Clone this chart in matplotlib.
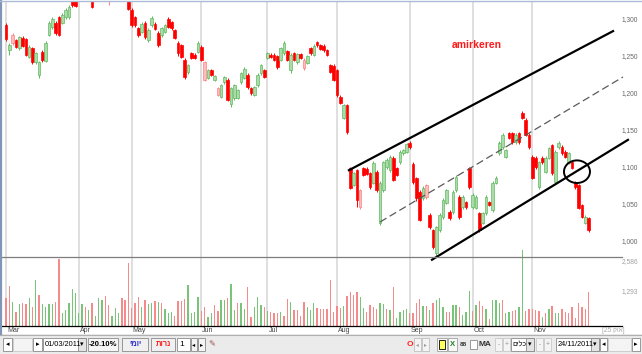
import numpy as np
import matplotlib
matplotlib.use('Agg')
import matplotlib.pyplot as plt
from matplotlib.patches import Rectangle, Ellipse
from matplotlib.lines import Line2D
from matplotlib.transforms import blended_transform_factory as blend

plt.rcParams['font.family'] = ['Liberation Sans', 'DejaVu Sans']

#####################################################
# data (daily candles, Mar 1 - Nov 24 2011)
#####################################################
opens = [1293, 1259, 1280, 1273, 1262, 1276, 1274, 1250, 1262, 1243, 1226, 1257, 1245, 1280, 1290, 1296, 1304, 1296, 1304, 1304, 1330, 1332,
         1330, 1341, 1350, 1340, 1332, 1328, 1337, 1346, 1355, 1335, 1330, 1341, 1352, 1345, 1337, 1331,
         1314, 1304, 1289, 1284, 1296, 1273, 1293, 1295, 1282, 1280, 1284, 1301, 1297, 1286, 1269, 1266, 1246, 1230, 1255, 1253, 1257,
         1264, 1243, 1222, 1232, 1219, 1208, 1196, 1216, 1219, 1186, 1195, 1195, 1216, 1222, 1226, 1208, 1199, 1212, 1228, 1232,
         1249, 1253, 1253, 1251, 1246, 1255, 1258, 1232, 1255, 1243, 1254, 1246, 1242, 1262, 1253, 1270, 1266, 1265, 1259, 1239, 1238,
         1232, 1196, 1168, 1185, 1100, 1077, 1097, 1070, 1100, 1099, 1093, 1080, 1095, 1026, 1070, 1101, 1097, 1114, 1100, 1108, 1120, 1122, 1134, 1105, 1086, 1068,
         1060, 1077, 1037, 1016, 985, 1016, 1034, 1053, 1041, 1041, 1070, 1061, 1047, 1054, 1100,
         1047, 1046, 1039, 1026, 1039, 1054, 1043, 1080, 1120, 1128, 1115, 1147, 1147, 1135, 1147, 1174, 1165, 1145,
         1115, 1114, 1074, 1114, 1095, 1114, 1131, 1081, 1128, 1128, 1122, 1107, 1108, 1081, 1077, 1050, 1026, 1032]
highs = [1296, 1269, 1283, 1275, 1279, 1278, 1276, 1266, 1264, 1257, 1245, 1259, 1271, 1298, 1304, 1298, 1306, 1309, 1316, 1320, 1333, 1336,
         1345, 1353, 1352, 1342, 1334, 1340, 1350, 1358, 1357, 1337, 1344, 1354, 1355, 1347, 1339, 1333,
         1316, 1306, 1291, 1297, 1298, 1289, 1305, 1297, 1285, 1291, 1295, 1304, 1299, 1288, 1272, 1268, 1248, 1241, 1257, 1255, 1271,
         1266, 1245, 1234, 1234, 1226, 1210, 1214, 1225, 1221, 1210, 1214, 1207, 1230, 1236, 1228, 1210, 1211, 1228, 1241, 1234,
         1257, 1255, 1255, 1253, 1264, 1271, 1260, 1255, 1257, 1256, 1256, 1248, 1253, 1264, 1267, 1272, 1268, 1267, 1261, 1241, 1240,
         1234, 1198, 1187, 1187, 1102, 1095, 1099, 1072, 1102, 1101, 1095, 1109, 1097, 1082, 1110, 1113, 1117, 1116, 1102, 1124, 1126, 1134, 1137, 1108, 1088, 1070,
         1075, 1079, 1039, 1018, 1022, 1039, 1059, 1072, 1043, 1070, 1090, 1063, 1063, 1056, 1102,
         1066, 1063, 1041, 1041, 1063, 1056, 1082, 1089, 1136, 1147, 1126, 1149, 1149, 1147, 1149, 1177, 1167, 1147,
         1117, 1116, 1110, 1116, 1116, 1129, 1133, 1124, 1136, 1131, 1124, 1122, 1110, 1083, 1079, 1052, 1036, 1034]
lows = [1272, 1253, 1266, 1262, 1260, 1263, 1251, 1248, 1241, 1241, 1222, 1243, 1243, 1278, 1288, 1280, 1278, 1294, 1302, 1302, 1318, 1317,
        1328, 1338, 1337, 1327, 1316, 1326, 1335, 1344, 1342, 1320, 1328, 1339, 1341, 1333, 1327, 1313,
        1291, 1290, 1277, 1282, 1275, 1270, 1291, 1286, 1263, 1277, 1282, 1289, 1287, 1274, 1252, 1248, 1220, 1227, 1247, 1247, 1255,
        1244, 1217, 1220, 1224, 1217, 1197, 1194, 1214, 1190, 1182, 1192, 1193, 1214, 1220, 1207, 1199, 1197, 1210, 1226, 1221,
        1247, 1248, 1244, 1234, 1244, 1253, 1244, 1229, 1244, 1241, 1247, 1233, 1240, 1253, 1251, 1264, 1259, 1257, 1251, 1228, 1217,
        1196, 1186, 1166, 1146, 1071, 1075, 1047, 1045, 1089, 1090, 1072, 1078, 1068, 1023, 1068, 1099, 1095, 1082, 1089, 1106, 1118, 1120, 1126, 1079, 1056, 1028,
        1057, 1058, 1018, 990, 981, 1014, 1031, 1051, 1030, 1038, 1068, 1031, 1045, 1045, 1072,
        1045, 1044, 1013, 1024, 1037, 1048, 1041, 1078, 1118, 1126, 1113, 1139, 1133, 1133, 1133, 1166, 1143, 1126,
        1085, 1099, 1072, 1106, 1093, 1112, 1091, 1079, 1126, 1118, 1113, 1105, 1098, 1072, 1044, 1032, 1024, 1014]
closes = [1274, 1266, 1269, 1264, 1277, 1265, 1253, 1264, 1243, 1255, 1243, 1246, 1269, 1296, 1301, 1282, 1280, 1307, 1314, 1318, 1320, 1319,
          1342, 1350, 1340, 1330, 1318, 1338, 1348, 1355, 1345, 1328, 1342, 1352, 1344, 1336, 1330, 1315,
          1293, 1293, 1280, 1295, 1277, 1287, 1303, 1288, 1266, 1289, 1293, 1291, 1289, 1276, 1255, 1250, 1223, 1239, 1249, 1249, 1269,
          1246, 1219, 1232, 1226, 1224, 1199, 1212, 1223, 1192, 1208, 1212, 1205, 1228, 1234, 1209, 1201, 1209, 1226, 1239, 1223,
          1255, 1250, 1246, 1236, 1262, 1269, 1246, 1253, 1246, 1254, 1249, 1235, 1251, 1255, 1265, 1266, 1261, 1259, 1253, 1230, 1219,
          1199, 1188, 1185, 1149, 1073, 1093, 1057, 1047, 1091, 1092, 1074, 1107, 1070, 1080, 1108, 1111, 1115, 1084, 1091, 1122, 1124, 1132, 1128, 1081, 1060, 1030,
          1073, 1061, 1020, 993, 1020, 1037, 1057, 1070, 1032, 1068, 1088, 1034, 1061, 1047, 1074,
          1064, 1061, 1016, 1039, 1061, 1050, 1080, 1087, 1134, 1145, 1124, 1141, 1135, 1145, 1135, 1168, 1145, 1128,
          1087, 1101, 1108, 1108, 1114, 1127, 1093, 1122, 1134, 1120, 1115, 1120, 1100, 1074, 1046, 1034, 1034, 1016]
# hollow (pink) red candles
pink_idx = [2, 31, 60, 64, 90, 107, 127]

volumes = [1064, 1520, 912, 532, 836, 874, 836, 1064, 722, 1748, 1178, 836, 722, 836, 836, 912, 2546, 494, 608, 874,
           1406, 1254, 494, 836, 722, 608, 874, 380, 1064, 988, 1140, 798, 380, 684, 494, 1064, 988, 2394, 684, 874,
           1102, 722, 988, 836, 874, 950, 912, 874, 646, 494, 532, 380, 950, 950, 1026, 1558, 494, 532, 1102, 570,
           722, 342, 494, 798, 570, 988, 988, 1064, 1596, 608, 874, 874, 646, 1482, 342, 722, 1102, 798, 722, 570,
           532, 494, 494, 532, 380, 1026, 912, 608, 608, 380, 912, 722, 608, 874, 684, 646, 646, 646, 1748, 532,
           760, 684, 760, 1140, 1292, 1178, 1292, 1102, 684, 532, 798, 722, 646, 874, 836, 646, 608, 1482, 304, 532,
           608, 646, 494, 494, 874, 1026, 760, 760, 608, 874, 988, 1064, 722, 532, 532, 798, 798, 722, 418, 532,
           1330, 570, 798, 950, 760, 646, 266, 988, 988, 874, 988, 494, 532, 570, 608, 722, 2888, 570, 646, 646,
           608, 570, 342, 494, 646, 760, 494, 494, 646, 532, 494, 722, 304, 874, 722, 646, 1292]
vol_colors = ("ppgpgppgpg" "pggggppggg" "ggggpgpggg" "ppgggppppp" "pgpggpgpgg" "gppppggggp"
              "pggppggpgg" "pggppgggpg" "pppgppgppp" "pgggpppppp" "ppgppppggp" "pppggpgpgg"
              "ggppppgpgp" "gggppggpgg" "gpgppgpggg" "pggppggppp" "ppgpgpggpp" "ppppppp")

months = ['Mar', 'Apr', 'May', 'Jun', 'Jul', 'Aug', 'Sep', 'Oct', 'Nov']
month_idx = [0, 22, 38, 59, 79, 100, 122, 141, 159]
price_ticks = [1000, 1050, 1100, 1150, 1200, 1250, 1300]
vol_ticks = [1293, 2586]

# channel drawn by hand: (candle index, price) end points
upper_line = [(103.6, 1097), (183.4, 1285)]
lower_line = [(128.7, 976), (187.9, 1138)]
mid_line = [(113.0, 1027), (186.4, 1223)]
circle_at = (172.5, 1095)

#####################################################
# layout in pixels
#####################################################
W, H = 642, 354
STEP = 3.31   # pixels per candle


def fx(px):
    return px / W


def fy(py):
    return 1 - py / H


# hebrew is drawn left to right by matplotlib, so flip the letters
def heb(s):
    return s[::-1]


fig = plt.figure(figsize=(W / 100, H / 100), dpi=100)
fig.patch.set_facecolor('white')

ax = fig.add_axes([0, fy(257), 1, 256 / H])
ax.set_xlim(-6 / STEP, (W - 6) / STEP)
ax.set_ylim(979.7, 1325.7)
ax.set_axis_off()

axv = fig.add_axes([0, fy(326), 1, 69 / H])
axv.set_xlim(ax.get_xlim())
axv.set_ylim(0, 69 * 38.03)
axv.set_axis_off()

for m in month_idx:
    ax.axvline(m, color='#dcdcdc', lw=1.3, zorder=0)
    axv.axvline(m, color='#dcdcdc', lw=1.3, zorder=0)

# candles
o = np.array(opens, float)
c = np.array(closes, float)
x = np.arange(len(o))
face, edge = [], []
for i in x:
    if i in pink_idx:
        face.append('#ffbcbc'); edge.append('#ff8080')
    elif c[i] >= o[i]:
        face.append('#a9dca9'); edge.append('#62b862')
    else:
        face.append('#ff0000'); edge.append('#ff0000')
ax.vlines(x, lows, highs, colors=edge, lw=0.7, zorder=2)
ax.bar(x, np.maximum(np.abs(c - o), 1.3), bottom=np.minimum(o, c), width=0.8,
       color=face, edgecolor=edge, linewidth=0.5, zorder=3)

# volume
vc = ['#78c478' if k == 'g' else '#f58a8a' for k in vol_colors]
axv.bar(x, volumes, width=0.4, color=vc, clip_on=False, zorder=2)

# channel lines
for pts, kw in [(upper_line, dict(color='black', lw=1.6)),
                (lower_line, dict(color='black', lw=1.6)),
                (mid_line, dict(color='#5a5a5a', lw=0.9, dashes=(6, 3)))]:
    ax.plot([p[0] for p in pts], [p[1] for p in pts], clip_on=False, zorder=5, **kw)
ax.add_patch(Ellipse(circle_at, 26 / STEP, 22.6 * 50 / 37, fill=False, ec='black', lw=1.4, zorder=6))

ax.text(fx(477), fy(45), 'amirkeren', transform=fig.transFigure, color='#ff1a1a',
        fontsize=7.5, fontweight='bold', ha='center', va='center')

# right hand labels
tr = blend(ax.transAxes, ax.transData)
for v in price_ticks:
    ax.text(fx(622), v, f'{v:,}', transform=tr, fontsize=4.8, color='#666666', va='center', ha='left')
trv = blend(axv.transAxes, axv.transData)
for v in vol_ticks:
    axv.text(fx(622), v, f'{v:,}', transform=trv, fontsize=4.8, color='#a0a0a0', ha='left',
             va='top' if v == vol_ticks[-1] else 'center')

# month labels
trm = blend(axv.transData, axv.transAxes)
for m, lab in zip(month_idx, months):
    axv.text(m + 0.3, -5 / 69, lab, transform=trm, fontsize=5, color='#444444', va='center', ha='left')
fig.text(fx(602), fy(331), '[25 ' + heb('אוק') + ']', fontsize=4.8, color='#aaaaaa', va='center', ha='left')

# frame lines
fig.add_artist(Line2D([0, fx(622)], [fy(257), fy(257)], color='#7d7d7d', lw=0.9))
fig.add_artist(Line2D([0, fx(622)], [fy(326), fy(326)], color='black', lw=0.9))
fig.add_artist(Line2D([fx(1.5), fx(1.5)], [fy(0), fy(334)], color='#8096b8', lw=1.6))
fig.add_artist(Line2D([0, 1], [fy(0.5), fy(0.5)], color='#a9bbd6', lw=1.0))

#####################################################
# toolbar
#####################################################
fig.add_artist(Rectangle((0, 0), 1, 20 / H, transform=fig.transFigure, fc='#ebebeb', ec='none'))
fig.add_artist(Line2D([0, 1], [fy(334.5), fy(334.5)], color='#b0b0b0', lw=0.8))


def box(x0, x1, y0=338, y1=351, fc='white', ec='#8a8a8a'):
    fig.add_artist(Rectangle((fx(x0), fy(y1)), fx(x1) - fx(x0), (y1 - y0) / H,
                             transform=fig.transFigure, fc=fc, ec=ec, lw=0.6))


def txt(px, s, ha='center', **kw):
    kw.setdefault('fontsize', 5.5)
    fig.text(fx(px), fy(344.5), s, ha=ha, va='center', **kw)


box(3, 12); txt(7.5, '◂', fontsize=5)
box(13, 32, fc='#f4f4f4', ec='#c8c8c8')
box(33, 42); txt(37.5, '▸', fontsize=5)
box(43, 86); txt(44.5, '01/03/2011', ha='left', fontsize=5.3)
box(78, 86, fc='#e4e4e4'); txt(82, '▾', fontsize=5)
box(88, 118, fc='#f6f6f6'); txt(103, '-20.10%', fontsize=5.5, fontweight='bold')
box(122, 148, fc='#f0f0f0'); txt(135, heb('יומי'), color='#2b2bd0', fontsize=5.5, fontweight='bold')
box(151, 175, fc='#f0f0f0'); txt(163, heb('נרות'), color='#ff2020', fontsize=5.5, fontweight='bold')
box(177, 190); txt(179.5, '1', ha='left', fontsize=6)
box(191, 197, fc='#f4f4f4'); txt(194, '◂', fontsize=4.5)
box(198, 205, fc='#f4f4f4'); txt(201.5, '▸', fontsize=4.5)
txt(212, '✎', fontsize=6, color='#a05050')

txt(410, 'O', color='#ff2020', fontsize=6, fontweight='bold')
box(414, 421, fc='#f4f4f4', ec='#c0c0c0'); txt(417.5, '◂', fontsize=4, color='#999999')
box(422, 429, fc='#f4f4f4', ec='#c0c0c0'); txt(425.5, '▸', fontsize=4, color='#999999')
box(437, 447, fc='#f8f8f8', ec='#a0a0a0')
box(439, 445, y0=340, y1=349, fc='#ffff60', ec='black')
box(448, 457, fc='#f8f8f8', ec='#a0a0a0'); txt(452.5, 'X', color='#208020', fontsize=5.5, fontweight='bold')
txt(463, '88', fontsize=4.5, fontweight='bold', color='#333333')
box(470, 477, y0=340, y1=349)
txt(485, 'MA', fontsize=6, fontweight='bold', color='#333333')
box(495, 502, fc='#f4f4f4', ec='#c8c8c8'); txt(498.5, '-', fontsize=5, color='#999999')
box(503, 510, fc='#f4f4f4', ec='#c8c8c8'); txt(506.5, '+', fontsize=5, color='#999999')
box(511, 534); txt(512.5, heb('כלים'), ha='left', fontsize=5)
box(526, 534, fc='#e4e4e4'); txt(530, '▾', fontsize=5)
box(536, 543, fc='#f4f4f4', ec='#c8c8c8'); txt(539.5, '-', fontsize=5, color='#999999')
box(544, 551, fc='#f4f4f4', ec='#c8c8c8'); txt(547.5, '+', fontsize=5, color='#999999')
box(556, 599); txt(557.5, '24/11/2011', ha='left', fontsize=5.3)
box(591, 599, fc='#e4e4e4'); txt(595, '▾', fontsize=5)
box(600, 607); txt(603.5, '◂', fontsize=5)
box(608, 631, fc='#f4f4f4', ec='#c8c8c8')
box(632, 640); txt(636, '▸', fontsize=5)

fig.savefig('out.png', dpi=100)
